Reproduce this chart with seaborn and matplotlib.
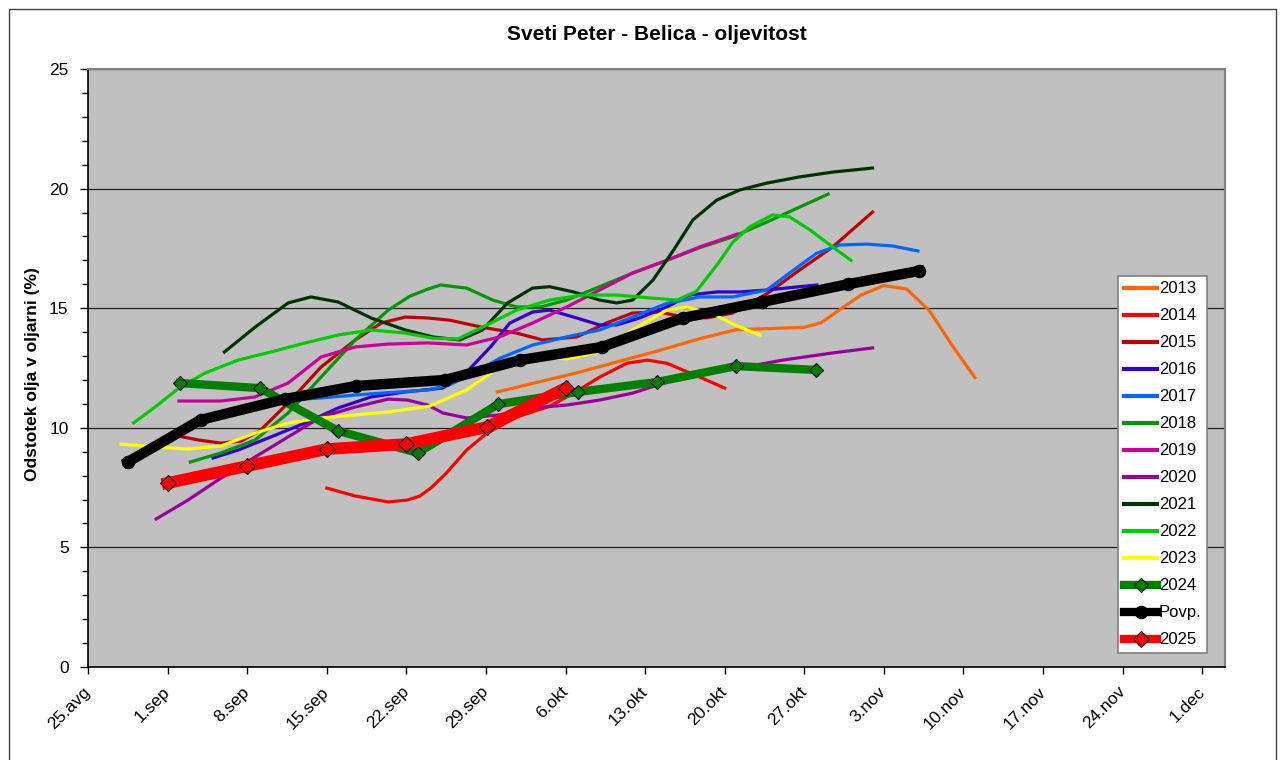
import matplotlib
matplotlib.use('Agg')
import matplotlib.pyplot as plt
import matplotlib.patches as mpatches
import seaborn as sns
import numpy as np
import pandas as pd

# days counted from 25.avg, values in % oil
x_2013 = [36, 43, 50, 54, 57, 60, 63, 64.5, 66, 68, 70, 72, 74, 76, 78]
y_2013 = [11.5, 12.3, 13.2, 13.75, 14.1, 14.15, 14.2, 14.4, 14.9, 15.55, 15.95, 15.8, 14.9, 13.45, 12.1]

x_2014 = [21, 23.5, 26.4, 28.1, 29.2, 30.2, 31.5, 33.3, 35.1, 37.7, 40.6, 42.7, 45, 47.4, 49.2, 50.9, 53.8, 56]
y_2014 = [7.48, 7.15, 6.9, 6.98, 7.15, 7.5, 8.1, 9.07, 9.78, 10.45, 10.9, 11.45, 12.12, 12.7, 12.83, 12.7, 12.12, 11.66]

x_2015 = [7.9, 9.7, 11.7, 13.5, 15.2, 17.6, 20.5, 23.5, 25.8, 27.9, 29.9, 31.8, 34.7, 37.7, 40, 43, 45.6,
          47.9, 50.3, 52.3, 54.5, 56.7, 59.7, 62.6, 65.5, 69.0]
y_2015 = [9.66, 9.49, 9.36, 9.45, 9.91, 11.04, 12.54, 13.67, 14.38, 14.63, 14.59, 14.5, 14.2, 13.96, 13.67, 13.8, 14.38,
          14.8, 14.84, 14.63, 14.6, 14.8, 15.6, 16.6, 17.56, 19.02]

x_2016 = [11.0, 13.2, 16.1, 19.1, 22.0, 24.9, 27.9, 31.2, 33.3, 35.4, 37.1, 39.1, 40.6, 42.7, 45, 46.5, 48.5,
          50.9, 52.9, 55.3, 57.3, 59.7, 62.6, 64.1]
y_2016 = [8.74, 9.07, 9.62, 10.2, 10.83, 11.29, 11.5, 11.66, 12.33, 13.38, 14.38, 14.84, 14.92, 14.63, 14.3, 14.3, 14.59,
          15.05, 15.55, 15.68, 15.68, 15.76, 15.9, 15.97]

x_2017 = [17.3, 20.5, 23.5, 26.4, 29.9, 31.8, 34.2, 36.2, 39.1, 42.1, 45, 47.9, 50.9, 53.8, 56.7, 59.7, 61.7,
          64.1, 66.1, 68.5, 70.8, 73]
y_2017 = [11.15, 11.25, 11.37, 11.47, 11.58, 11.8, 12.35, 12.9, 13.46, 13.8, 14.09, 14.63, 15.2, 15.47, 15.47, 15.76, 16.47,
          17.3, 17.64, 17.68, 17.6, 17.39]

x_2018 = [9.0, 11.7, 14.7, 17.6, 20.5, 23.5, 26.4, 28.3, 29.9, 31.0, 33.3, 35.6, 37.7, 39.8, 42.1, 45, 47.9,
          50.9, 53.8, 56.7, 59.7, 62.6, 65.1]
y_2018 = [8.57, 8.95, 9.49, 10.62, 12.12, 13.67, 14.92, 15.5, 15.8, 15.97, 15.84, 15.34, 15.05, 15.05, 15.34, 15.9, 16.47,
          17.0, 17.53, 17.98, 18.6, 19.23, 19.77]

x_2019 = [8.0, 11.7, 14.7, 17.6, 20.5, 23.5, 26.4, 29.9, 33.3, 36.2, 39.1, 42.1, 45, 47.9, 50.9, 53.8, 57.1]
y_2019 = [11.12, 11.12, 11.29, 11.87, 12.96, 13.38, 13.5, 13.55, 13.46, 13.8, 14.38, 15.05, 15.76, 16.47, 17.0, 17.56, 18.1]

x_2020 = [6.0, 8.8, 11.7, 14.7, 17.6, 20.5, 23.5, 26.4, 28.1, 29.9, 31.2, 33.3, 36.2, 39.1, 42.1, 45, 47.9,
          50.9, 53.8, 56.7, 61.1, 65.5, 69.0]
y_2020 = [6.19, 6.98, 7.9, 8.78, 9.62, 10.45, 10.87, 11.2, 11.16, 10.95, 10.62, 10.41, 10.54, 10.83, 10.95, 11.16, 11.45,
          11.91, 12.33, 12.45, 12.83, 13.13, 13.34]

x_2021 = [12.0, 14.7, 17.6, 19.6, 22.0, 24.9, 27.9, 30.3, 32.7, 34.7, 36.9, 39.1, 40.6, 42.7, 45, 46.5, 47.9,
          49.7, 51.5, 53.2, 55.3, 57.3, 59.7, 62.6, 65.5, 69.0]
y_2021 = [13.17, 14.21, 15.22, 15.47, 15.26, 14.59, 14.09, 13.8, 13.67, 14.09, 15.22, 15.84, 15.9, 15.68, 15.34, 15.22, 15.34,
          16.18, 17.43, 18.69, 19.52, 19.94, 20.23, 20.49, 20.69, 20.86]

x_2022 = [4.0, 5.9, 8.1, 10.3, 13.2, 16.1, 19.1, 22.0, 24.9, 27.9, 30.3, 32.5, 34.7, 37.7, 40.6, 43.5, 46.5,
          49.4, 51.8, 53.5, 55.3, 56.7, 58.2, 60.2, 61.7, 63.5, 65.5, 67.1]
y_2022 = [10.2, 10.87, 11.7, 12.29, 12.83, 13.17, 13.55, 13.88, 14.09, 13.96, 13.75, 13.71, 14.21, 14.92, 15.34, 15.55, 15.55,
          15.43, 15.34, 15.7, 16.8, 17.75, 18.4, 18.9, 18.82, 18.27, 17.56, 17.0]

x_2023 = [2.9, 5.9, 8.8, 11.7, 14.7, 17.6, 20.5, 23.5, 26.4, 30.0, 33.3, 36.2, 39.1, 42.1, 45, 47.9, 50.9,
          52.7, 55.0, 57.3, 59.1]
y_2023 = [9.32, 9.2, 9.11, 9.24, 9.78, 10.2, 10.41, 10.54, 10.66, 10.9, 11.58, 12.54, 12.96, 12.88, 13.17, 14.09, 14.92,
          15.05, 14.75, 14.21, 13.88]

x_2024 = [8.1, 15.1, 22.0, 29.0, 36.1, 43.1, 50.0, 57.0, 64.0]
y_2024 = [11.87, 11.66, 9.87, 8.95, 10.99, 11.5, 11.91, 12.58, 12.42]

x_povp = [3.5, 9.9, 17.3, 23.6, 31.4, 38.0, 45.2, 52.3, 59.3, 66.8, 73.1]
y_povp = [8.57, 10.33, 11.2, 11.75, 12.0, 12.83, 13.38, 14.59, 15.26, 16.0, 16.56]

x_2025 = [7.0, 14.0, 21.0, 28.0, 35.1, 42.0]
y_2025 = [7.69, 8.40, 9.11, 9.32, 10.03, 11.66]

tick_days = [0, 7, 14, 21, 28, 35, 42, 49, 56, 63, 70, 77, 84, 91, 98]
tick_labels = ['25.avg', '1.sep', '8.sep', '15.sep', '22.sep', '29.sep', '6.okt', '13.okt',
               '20.okt', '27.okt', '3.nov', '10.nov', '17.nov', '24.nov', '1.dec']

thin = [
    ('2013', x_2013, y_2013, '#FF6600'),
    ('2014', x_2014, y_2014, '#FF0000'),
    ('2015', x_2015, y_2015, '#C00000'),
    ('2016', x_2016, y_2016, '#3300CC'),
    ('2017', x_2017, y_2017, '#0066FF'),
    ('2018', x_2018, y_2018, '#009900'),
    ('2019', x_2019, y_2019, '#CC0099'),
    ('2020', x_2020, y_2020, '#990099'),
    ('2021', x_2021, y_2021, '#003300'),
    ('2022', x_2022, y_2022, '#00CC00'),
    ('2023', x_2023, y_2023, '#FFFF00'),
]

plt.rcParams['font.family'] = ['Liberation Sans', 'DejaVu Sans']

fig = plt.figure(figsize=(12.84, 7.6), dpi=100)
ax = fig.add_axes([88/1284, 1-667/760, (1225-88)/1284, (667-69)/760])
ax.set_facecolor('#C0C0C0')

for label, xs, ys, col in thin:
    sns.lineplot(x=xs, y=ys, color=col, lw=2.3, label=label, ax=ax, sort=False, estimator=None)

sns.lineplot(x=x_2024, y=y_2024, color='#008000', lw=6, label='2024', ax=ax, sort=False, estimator=None,
             marker='D', markersize=7, markerfacecolor='#008000', markeredgecolor='black', markeredgewidth=0.8)
sns.lineplot(x=x_povp, y=y_povp, color='black', lw=7.5, label='Povp.', ax=ax, sort=False, estimator=None,
             marker='o', markersize=9, markerfacecolor='black', markeredgecolor='black')
sns.lineplot(x=x_2025, y=y_2025, color='#FF0000', lw=8.5, label='2025', ax=ax, sort=False, estimator=None,
             marker='D', markersize=8, markerfacecolor='#FF0000', markeredgecolor='black', markeredgewidth=0.8)

ax.set_xlim(0, 100)
ax.set_ylim(0, 25)
ax.set_xticks(tick_days)
ax.set_xticklabels(tick_labels, rotation=45, ha='right', va='center', rotation_mode='anchor', fontsize=12.5)
ax.set_yticks([0, 5, 10, 15, 20, 25])
ax.set_yticks(np.arange(0, 26, 1), minor=True)
ax.tick_params(axis='y', which='major', direction='out', length=6, width=1, labelsize=12.5, pad=8, colors='black')
ax.tick_params(axis='y', which='minor', direction='out', length=4, width=1)
ax.tick_params(axis='x', which='major', direction='out', length=5, width=1, pad=11)
ax.grid(axis='y', which='major', color='#202020', lw=0.9)
ax.grid(axis='x', visible=False)
ax.set_axisbelow(True)

for s in ['left', 'bottom']:
    ax.spines[s].set_color('black')
    ax.spines[s].set_linewidth(1.2)
for s in ['top', 'right']:
    ax.spines[s].set_color('#808080')
    ax.spines[s].set_linewidth(1.5)

ax.set_xlabel('')
ax.set_ylabel('Odstotek olja v oljarni (%)', fontsize=12.5, fontweight='bold')
ax.yaxis.set_label_coords(-0.042, 0.49)
ax.set_title('Sveti Peter - Belica - oljevitost', fontsize=15, fontweight='bold', pad=21)

leg = ax.legend(loc='lower left', bbox_to_anchor=(0.906, 0.023), fontsize=12, frameon=True,
                fancybox=False, framealpha=1, edgecolor='#808080', facecolor='white',
                handlelength=2.0, handletextpad=0.1, labelspacing=0.72, borderpad=0.35, borderaxespad=0)
leg.get_frame().set_linewidth(1.2)
for h in leg.get_lines():
    if h.get_label() in ('2024', 'Povp.', '2025'):
        h.set_linewidth(6)
    else:
        h.set_linewidth(3)

fig.patches.append(mpatches.Rectangle((9/1284, -0.01), (1276-9)/1284, 1-9/760+0.01, transform=fig.transFigure,
                                      fill=False, ec='#404040', lw=1))

fig.savefig('out.png', dpi=100)
